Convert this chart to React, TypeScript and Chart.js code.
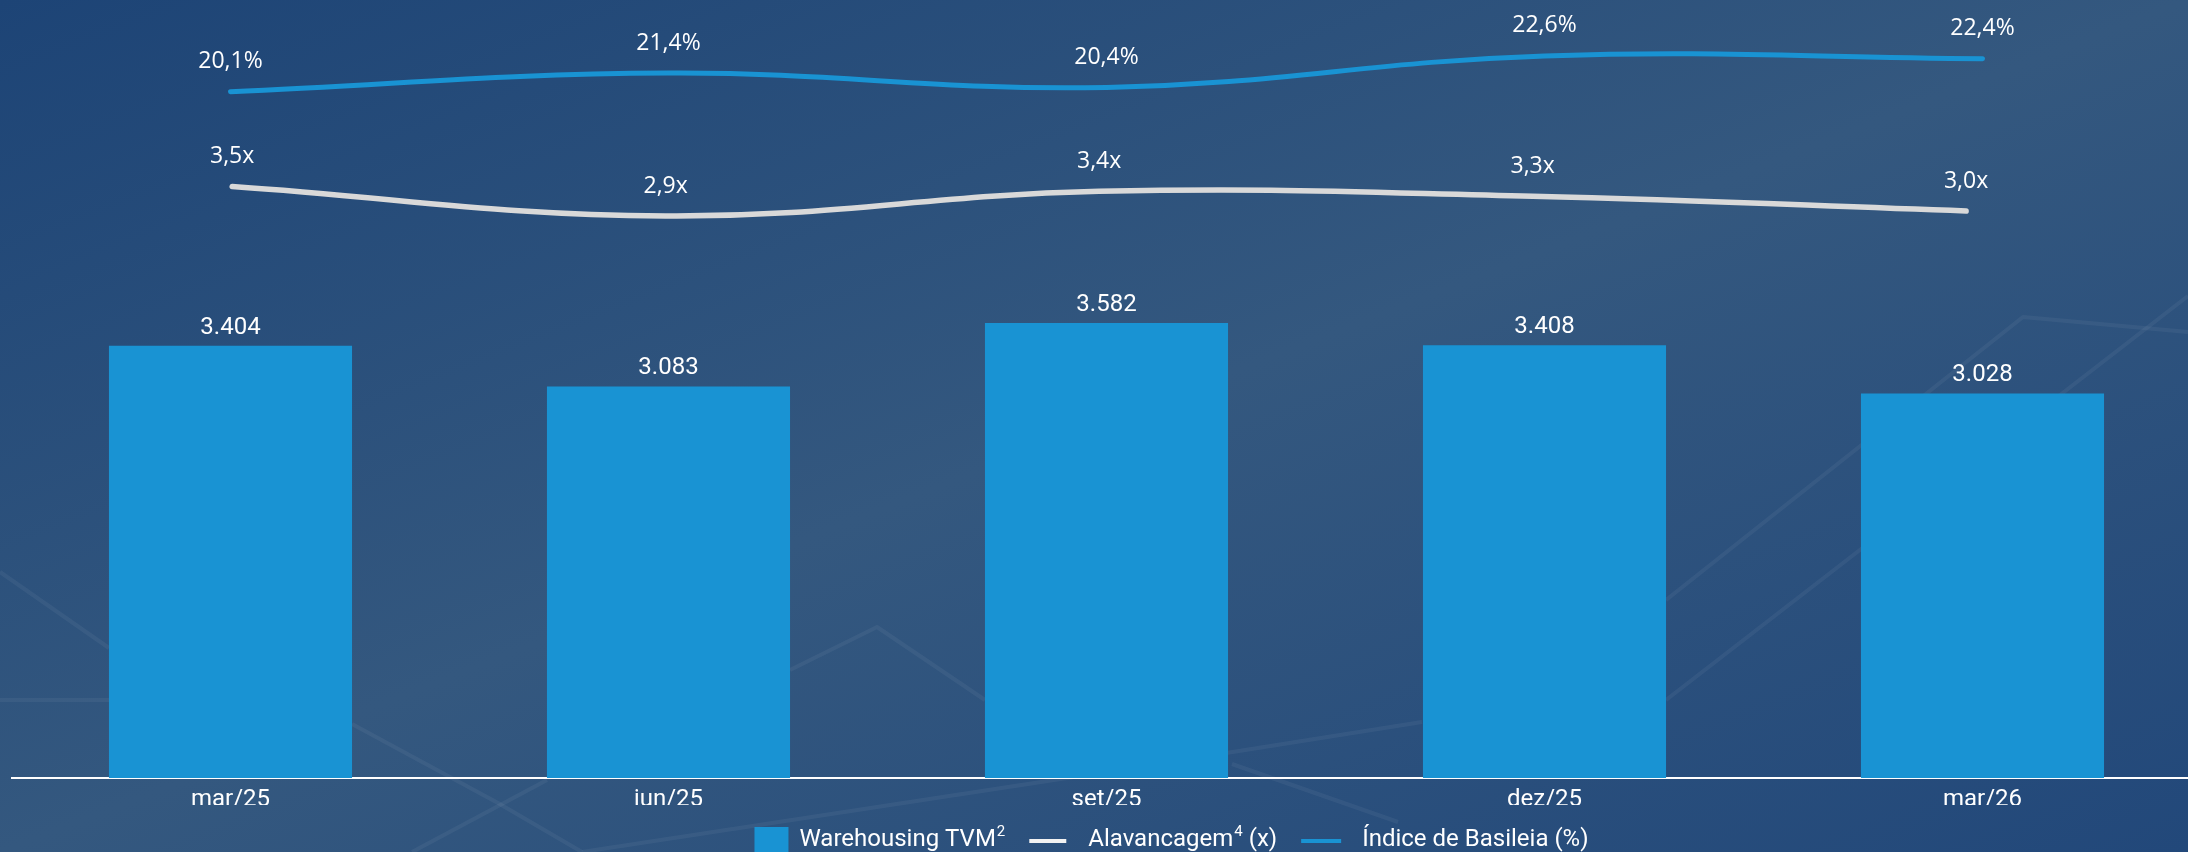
import React, { useEffect, useRef } from 'react';
import { Chart, registerables } from 'chart.js';

Chart.register(...registerables);

// ---- data ----
const categories = ['mar/25', 'jun/25', 'set/25', 'dez/25', 'mar/26'];
const warehousing = [3404, 3083, 3582, 3408, 3028];
const alavancagem = [3.5, 2.9, 3.4, 3.3, 3.0];
const basileia = [20.1, 21.4, 20.4, 22.6, 22.4];
const legendMain = ['Warehousing TVM', 'Alavancagem', 'Índice de Basileia (%)'];
const legendSup = ['2', '4', ''];
const legendTail = ['', ' (x)', ''];

// ---- styles ----
const BAR_COLOR = '#1993d3';
const WHITE_LINE = '#d9d9d9';
const BLUE_LINE = '#1993d3';

// faint decorative background strokes (not data)
const decoLines: number[][][] = [
  [[0, 572], [109, 648]],
  [[0, 700], [109, 700]],
  [[352, 724], [498, 803], [582, 852]],
  [[412, 852], [547, 780]],
  [[790, 670], [877, 627], [985, 700]],
  [[582, 852], [1100, 773], [1422, 722]],
  [[1232, 764], [1398, 822]],
  [[1666, 600], [2023, 317], [2188, 332]],
  [[1666, 700], [2188, 296]],
];

const fmtThousands = (n: number) => String(Math.round(n)).replace(/\B(?=(\d{3})+(?!\d))/g, '.');
const fmtDec = (v: number) => v.toFixed(1).replace('.', ',');

const decoPlugin = {
  id: 'deco',
  beforeDraw(chart: any) {
    const ctx = chart.ctx;
    ctx.save();
    ctx.strokeStyle = 'rgba(255,255,255,0.05)';
    ctx.lineWidth = 4;
    ctx.lineJoin = 'round';
    decoLines.forEach((pl) => {
      ctx.beginPath();
      pl.forEach(([x, y], i) => (i === 0 ? ctx.moveTo(x, y) : ctx.lineTo(x, y)));
      ctx.stroke();
    });
    ctx.restore();
  },
};

const labelPlugin = {
  id: 'valueLabels',
  afterDatasetsDraw(chart: any) {
    const ctx = chart.ctx;
    ctx.save();
    ctx.fillStyle = '#ffffff';
    ctx.textAlign = 'center';
    ctx.textBaseline = 'middle';
    ctx.font = '24px Roboto';
    chart.getDatasetMeta(0).data.forEach((el: any, i: number) => {
      ctx.fillText(fmtThousands(warehousing[i]), el.x, el.y - 18);
    });
    ctx.font = '23px "Open Sans"';
    chart.getDatasetMeta(1).data.forEach((el: any, i: number) => {
      ctx.fillText(fmtDec(alavancagem[i]) + 'x', el.x, el.y - 30);
    });
    chart.getDatasetMeta(2).data.forEach((el: any, i: number) => {
      ctx.fillText(fmtDec(basileia[i]) + '%', el.x, el.y - 30);
    });
    ctx.restore();
  },
};

// legend drawn below the x axis (marker sizes and gaps as in the reference)
const legendPlugin = {
  id: 'customLegend',
  afterDraw(chart: any) {
    const ctx = chart.ctx;
    const markerW = [34, 37, 40];
    const gapAfterMarker = [11, 22, 21];
    const gapBetween = 24;
    const yMid = chart.scales.x.bottom + 35;
    const mainFont = '24px Roboto';
    const supFont = '15px Roboto';
    ctx.save();
    const textW = legendMain.map((t, i) => {
      ctx.font = mainFont;
      let w = ctx.measureText(t).width;
      if (legendSup[i]) { ctx.font = supFont; w += 1 + ctx.measureText(legendSup[i]).width; }
      if (legendTail[i]) { ctx.font = mainFont; w += ctx.measureText(legendTail[i]).width; }
      return w;
    });
    let total = 0;
    textW.forEach((w, i) => { total += markerW[i] + gapAfterMarker[i] + w + (i < 2 ? gapBetween : 0); });
    let x = chart.width / 2 - 1.5 - total / 2;
    const colors = [BAR_COLOR, '#f2f2f2', BLUE_LINE];
    textW.forEach((w, i) => {
      if (i === 0) {
        ctx.fillStyle = colors[i];
        ctx.fillRect(x, yMid - 13, markerW[i], 34);
      } else {
        ctx.strokeStyle = colors[i];
        ctx.lineWidth = 4;
        ctx.beginPath();
        ctx.moveTo(x, yMid + 1);
        ctx.lineTo(x + markerW[i], yMid + 1);
        ctx.stroke();
      }
      x += markerW[i] + gapAfterMarker[i];
      ctx.fillStyle = '#ffffff';
      ctx.textAlign = 'left';
      ctx.textBaseline = 'middle';
      ctx.font = mainFont;
      ctx.fillText(legendMain[i], x, yMid);
      let tx = x + ctx.measureText(legendMain[i]).width;
      if (legendSup[i]) {
        ctx.font = supFont;
        ctx.fillText(legendSup[i], tx + 1, yMid - 8);
        tx += 1 + ctx.measureText(legendSup[i]).width;
      }
      if (legendTail[i]) {
        ctx.font = mainFont;
        ctx.fillText(legendTail[i], tx, yMid);
      }
      x += w + gapBetween;
    });
    ctx.restore();
  },
};

export default function App() {
  const canvasRef = useRef<HTMLCanvasElement | null>(null);

  useEffect(() => {
    const canvas = canvasRef.current;
    if (!canvas) return;
    const chart = new Chart(canvas, {
      type: 'bar',
      data: {
        labels: categories,
        datasets: [
          {
            type: 'bar',
            label: legendMain[0],
            data: warehousing,
            backgroundColor: BAR_COLOR,
            borderWidth: 0,
            xAxisID: 'x',
            yAxisID: 'y',
            grouped: false,
            categoryPercentage: 1,
            barPercentage: 0.555,
            order: 3,
          },
          {
            type: 'line',
            label: legendMain[1],
            data: alavancagem.map((v, i) => ({ x: i, y: v })),
            borderColor: WHITE_LINE,
            backgroundColor: WHITE_LINE,
            borderWidth: 5.5,
            borderCapStyle: 'round',
            tension: 0.4,
            pointRadius: 0,
            xAxisID: 'xw',
            yAxisID: 'yA',
            order: 1,
          },
          {
            type: 'line',
            label: legendMain[2],
            data: basileia,
            borderColor: BLUE_LINE,
            backgroundColor: BLUE_LINE,
            borderWidth: 5,
            borderCapStyle: 'round',
            tension: 0.4,
            pointRadius: 0,
            xAxisID: 'x',
            yAxisID: 'yB',
            order: 2,
          },
        ] as any,
      },
      options: {
        responsive: false,
        animation: false,
        layout: { padding: { top: 16, left: 0, right: 0, bottom: 47 } },
        plugins: {
          tooltip: { enabled: false },
          legend: { display: false },
        },
        scales: {
          x: {
            type: 'category',
            offset: true,
            grid: { display: false, drawTicks: false },
            border: { display: true, color: '#ffffff', width: 2 },
            ticks: { color: '#ffffff', font: { family: 'Roboto', size: 24 }, padding: 8 },
            afterFit: (s: any) => { s.height = 27; },
          },
          xw: {
            type: 'linear',
            display: false,
            offset: false,
            min: -0.509,
            max: 4.543,
          },
          y: {
            position: 'left',
            min: 0,
            max: 6000,
            ticks: { display: false },
            grid: { display: false },
            border: { display: false },
            afterFit: (s: any) => { s.width = 11.5; },
          },
          yB: {
            position: 'right',
            min: -27.73,
            max: 25.38,
            ticks: { display: false },
            grid: { display: false },
            border: { display: false },
            afterFit: (s: any) => { s.width = 144.5; },
          },
          yA: {
            display: false,
            min: -8.5,
            max: 6.956,
          },
        },
      } as any,
      plugins: [decoPlugin, labelPlugin, legendPlugin],
    });
    return () => chart.destroy();
  }, []);

  return (
    <div
      style={{
        position: 'fixed',
        left: 0,
        top: 0,
        width: 2188,
        height: 852,
        overflow: 'hidden',
        background: 'linear-gradient(to bottom right, #1d4476 0%, #34587f 50%, #22487a 100%)',
      }}
    >
      <canvas
        ref={canvasRef}
        width={2346}
        height={852}
        style={{ position: 'absolute', left: 0, top: 0, width: 2346, height: 852 }}
      />
    </div>
  );
}
